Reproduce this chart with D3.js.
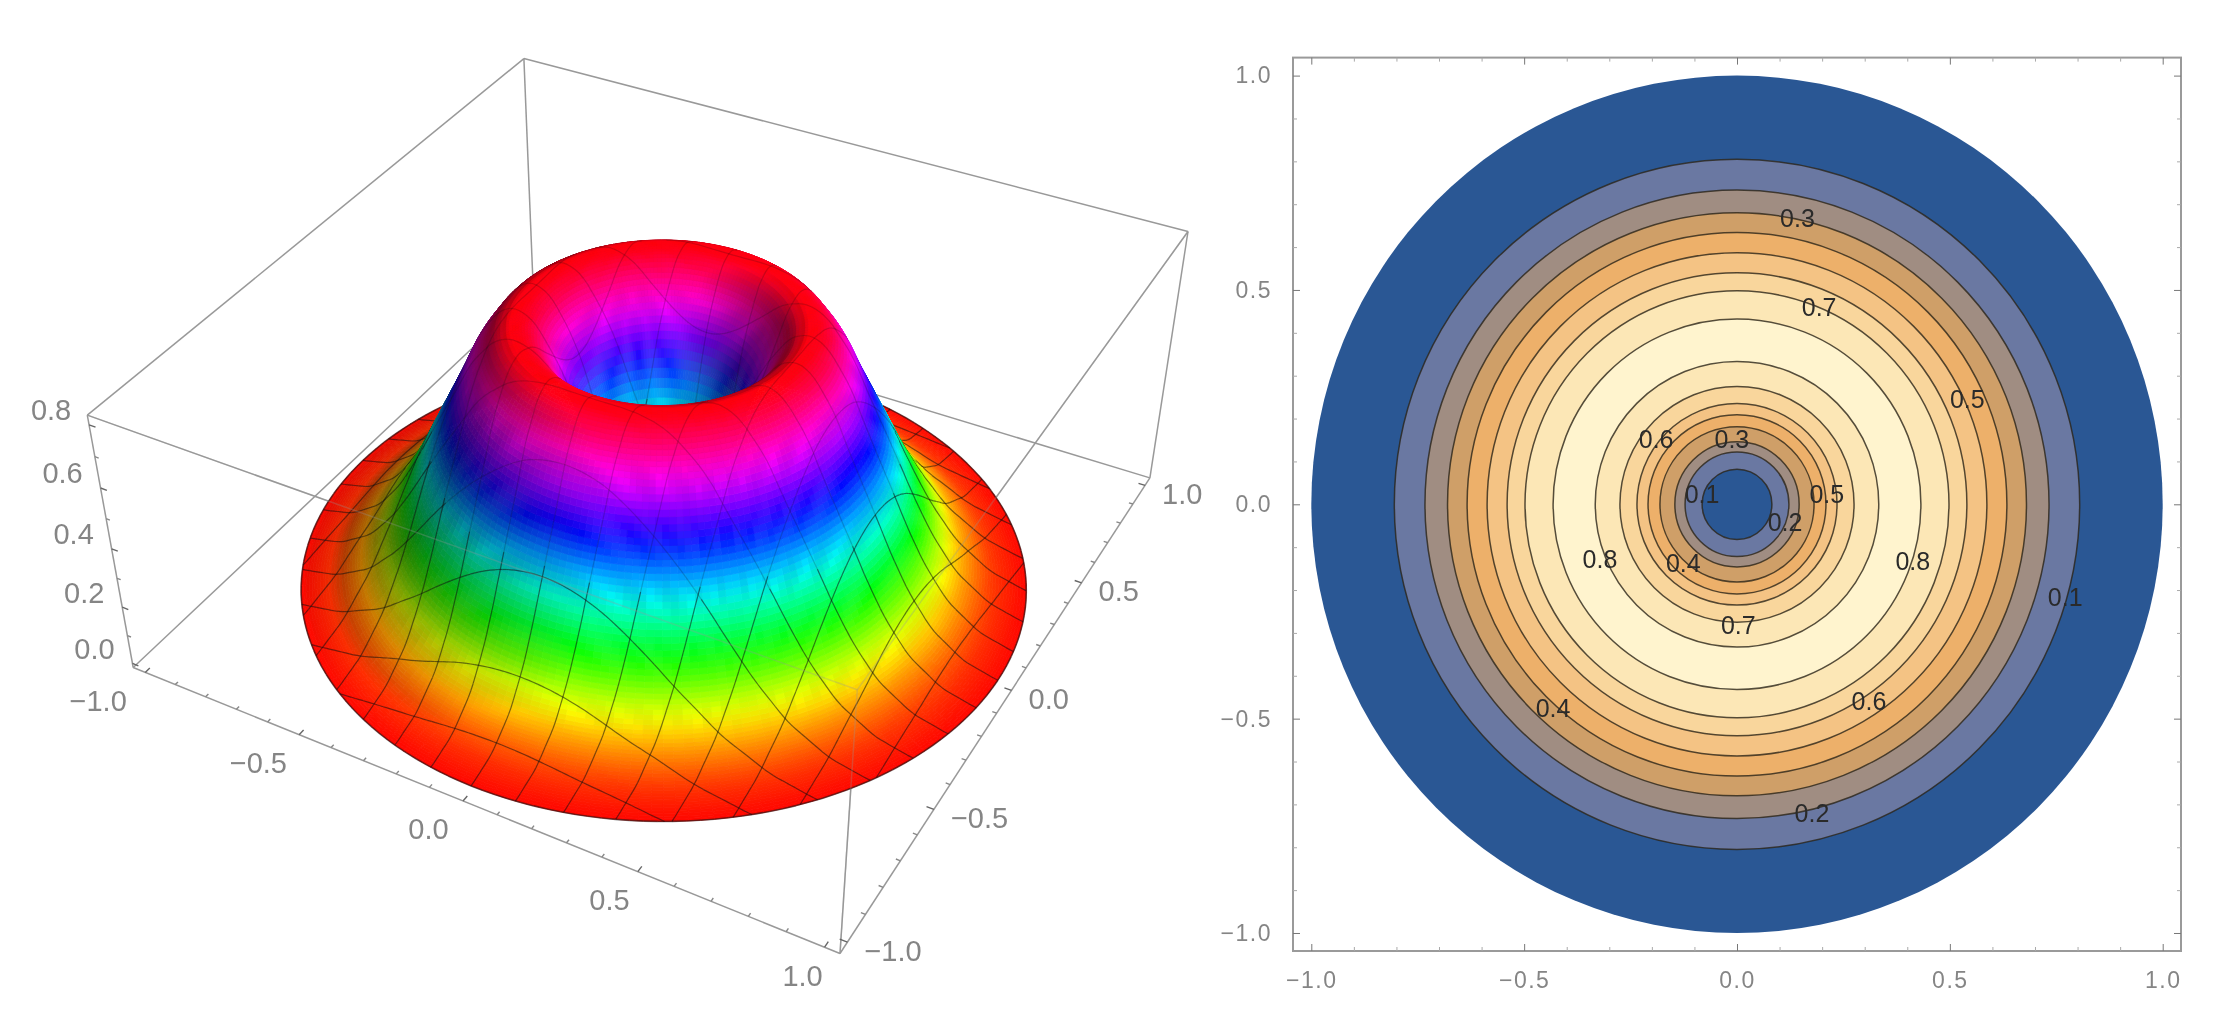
<!DOCTYPE html>
<html>
<head>
<meta charset="utf-8">
<style>
  body { margin: 0; background: #fff; }
  svg { filter: blur(0.6px); }
  text { font-family: "Liberation Sans", sans-serif; }
</style>
<script src="https://cdnjs.cloudflare.com/ajax/libs/d3/7.8.5/d3.min.js"></script>
</head>
<body>
<svg id="chart" width="2217" height="1027"></svg>
<script>
  const contourLevels = [0.1, 0.2, 0.3, 0.4, 0.5, 0.6, 0.7, 0.8];
  const outerRadii = [0.805, 0.733, 0.68, 0.634, 0.587, 0.54, 0.498, 0.432];
  const innerRadii = [0.082, 0.122, 0.146, 0.181, 0.209, 0.235, 0.275, 0.333];
  const bandColors = ["#2a5794", "#6a78a2", "#a08d82", "#cf9f68", "#edb06a", "#f4c384", "#f9d69c", "#fce7b6", "#fff4ce"];
  const labelValues = [0.3, 0.7, 0.5, 0.6, 0.3, 0.1, 0.5, 0.2, 0.8, 0.4, 0.8, 0.1, 0.7, 0.6, 0.4, 0.2];
  const labelX = [0.142, 0.193, 0.541, -0.19, -0.012, -0.082, 0.211, 0.113, -0.322, -0.126, 0.413, 0.771, 0.003, 0.31, -0.432, 0.176];
  const labelY = [0.668, 0.461, 0.246, 0.153, 0.153, 0.023, 0.023, -0.041, -0.128, -0.136, -0.133, -0.217, -0.282, -0.458, -0.476, -0.72];
  const planeTicks = [-1, -0.5, 0, 0.5, 1];
  const heightTicks = [0, 0.2, 0.4, 0.6, 0.8];
  const peakRadius = 0.385;
  const peakHeight = 0.825;
  const outerEdgeRadii = [0.9, 1];
  const outerEdgeHeights = [0.03, 0.002];

  const svg = d3.select("#chart");
  const fmt = (d) => d3.format(".1f")(d).replace("-", "\u2212");

  // right panel: contour plot
  const x2 = d3.scaleLinear().domain([-1.043, 1.043]).range([1293, 2181]);
  const y2 = d3.scaleLinear().domain([-1.042, 1.042]).range([951, 57.6]);
  const right = svg.append("g");
  const rings = [{ r: 1, band: 0 }]
    .concat(outerRadii.map((r, i) => ({ r, band: i + 1, line: true })))
    .concat(innerRadii.map((r, i) => ({ r, band: i, line: true })).reverse());
  right.selectAll("ellipse").data(rings).join("ellipse")
    .attr("cx", x2(0)).attr("cy", y2(0))
    .attr("rx", (d) => x2(d.r) - x2(0)).attr("ry", (d) => y2(0) - y2(d.r))
    .attr("fill", (d) => bandColors[d.band])
    .attr("stroke", (d) => (d.line ? "#2b2418" : "none"))
    .attr("stroke-opacity", 0.8).attr("stroke-width", 1.5);
  right.selectAll("text.clabel").data(labelValues).join("text").attr("class", "clabel")
    .attr("x", (d, i) => x2(labelX[i])).attr("y", (d, i) => y2(labelY[i]))
    .attr("dy", "0.36em").attr("text-anchor", "middle")
    .attr("font-size", 25).attr("fill", "#2a2a2a").text((d) => d3.format(".1f")(d));

  right.append("rect").attr("x", x2.range()[0]).attr("y", y2.range()[1])
    .attr("width", x2.range()[1] - x2.range()[0]).attr("height", y2.range()[0] - y2.range()[1])
    .attr("fill", "none").attr("stroke", "#9a9a9a").attr("stroke-width", 2);

  const minorTicks = d3.range(-10, 11).filter((d) => d % 5 !== 0).map((d) => d / 10);
  function frameAxis(axis, scale, transform, labelled) {
    const major = right.append("g").attr("transform", transform)
      .call(axis(scale).tickValues(planeTicks).tickSize(-7).tickPadding(labelled ? 21 : 0)
        .tickFormat(labelled ? fmt : ""));
    major.select(".domain").remove();
    major.selectAll("line").attr("stroke", "#777");
    major.selectAll("text").attr("font-size", 23).attr("fill", "#858585")
      .attr("font-family", "Liberation Sans").attr("letter-spacing", 1.5);
    const minor = right.append("g").attr("transform", transform)
      .call(axis(scale).tickValues(minorTicks).tickSize(-4).tickFormat(""));
    minor.select(".domain").remove();
    minor.selectAll("line").attr("stroke", "#aaa");
  }
  frameAxis(d3.axisBottom, x2, `translate(0,${y2.range()[0]})`, true);
  frameAxis(d3.axisTop, x2, `translate(0,${y2.range()[1]})`, false);
  frameAxis(d3.axisLeft, y2, `translate(${x2.range()[0]},0)`, true);
  frameAxis(d3.axisRight, y2, `translate(${x2.range()[1]},0)`, false);

  // left panel: the box is mapped to unit-ish coords, then through a fixed camera
  const boxXY = d3.scaleLinear().domain([-1.04, 1.04]).range([-1, 1]);
  const boxZ = d3.scaleLinear().domain([-0.015, 0.83]).range([0, 0.84]);
  const cam = [
    [288.652808, 245.516417, -60.35611, 662.04907],
    [79.857831, -151.655217, -325.999766, 568.890319],
    [-0.06015098, 0.10039035, -0.09047093, 1],
  ];
  const project = ([X, Y, Z]) => {
    const v = [boxXY(X), boxXY(Y), boxZ(Z), 1];
    const [a, b, w] = cam.map((row) => d3.sum(row, (c, i) => c * v[i]));
    return [a / w, b / w, w];
  };
  const pathOf = (pts) => "M" + pts.map((p) => { const q = project(p); return q[0].toFixed(1) + "," + q[1].toFixed(1); }).join("L");

  const surfaceRadii = [0].concat(innerRadii, [peakRadius], outerRadii.slice().reverse(), outerEdgeRadii);
  const surfaceHeights = [0].concat(contourLevels, [peakHeight], contourLevels.slice().reverse(), outerEdgeHeights);
  const profile = d3.scaleLinear().domain(surfaceRadii).range(surfaceHeights).clamp(true);
  const heightAt = (r) => (profile(r - 0.014) + profile(r) + profile(r + 0.014)) / 3;
  const hue = d3.scaleLinear().domain([0, peakHeight]).range([0, 360]).clamp(true);

  const left = svg.append("g");
  const edge = (a, b, op) => left.append("path").attr("d", pathOf([a, b])).attr("stroke", "#999")
    .attr("stroke-width", 1.5).attr("stroke-opacity", op).attr("fill", "none");
  const [xa, xb] = boxXY.domain();
  const [za, zb] = boxZ.domain();
  const b0 = [xa, xa, za], b1 = [xb, xa, za], b2 = [xb, xb, za], b3 = [xa, xb, za];
  const t0 = [xa, xa, zb], t1 = [xb, xa, zb], t2 = [xb, xb, zb], t3 = [xa, xb, zb];
  const frontEdges = [[t0, t1], [t1, t2], [t1, b1]];
  [[t3, t2], [t3, t0], [t3, b3], [b0, b3], [b2, b3], [t2, b2], [t0, b0], [b0, b1], [b1, b2]]
    .concat(frontEdges).forEach(([a, b]) => edge(a, b, 1));

  // colours are set at the nodes of a coarse grid and blended, as the renderer does
  const gridStep = 0.04;
  const nodeCache = new Map();
  const nodeColor = (i, j) => {
    const key = i + "," + j;
    if (!nodeCache.has(key)) {
      const r = Math.hypot(i * gridStep, j * gridStep);
      nodeCache.set(key, d3.hsl(hue(heightAt(r)) % 360, 1, 0.5).rgb());
    }
    return nodeCache.get(key);
  };
  const blended = (X, Y) => {
    const fx = X / gridStep, fy = Y / gridStep;
    const i = Math.floor(fx), j = Math.floor(fy), u = fx - i, v = fy - j;
    const c00 = nodeColor(i, j), c10 = nodeColor(i + 1, j), c01 = nodeColor(i, j + 1), c11 = nodeColor(i + 1, j + 1);
    const mix = (k) => (c00[k] * (1 - u) + c10[k] * u) * (1 - v) + (c01[k] * (1 - u) + c11[k] * u) * v;
    return [mix("r"), mix("g"), mix("b")];
  };
  const light = [0.75, -0.15, 0.65];
  const shade = (r, t) => {
    const slope = (heightAt(r + 0.005) - heightAt(r - 0.005)) / 0.01;
    const n = [-slope * Math.cos(t), -slope * Math.sin(t), 1];
    const len = Math.hypot(n[0], n[1], n[2]);
    const dot = (n[0] * light[0] + n[1] * light[1] + n[2] * light[2]) / len;
    return Math.min(1, Math.max(0.5, 0.55 + 0.8 * dot));
  };
  const colorAt = (r, t) => {
    const [cr, cg, cb] = blended(r * Math.cos(t), r * Math.sin(t));
    const k = shade(r, t);
    return d3.rgb(cr * k, cg * k, cb * k).formatHex();
  };
  const pt = (r, t) => [r * Math.cos(t), r * Math.sin(t), heightAt(r)];

  const items = [];
  const nr = 130, nt = 200;
  for (let i = 0; i < nr; i++) {
    const r0 = i / nr, r1 = (i + 1) / nr;
    for (let j = 0; j < nt; j++) {
      const a0 = (j / nt) * 2 * Math.PI, a1 = ((j + 1) / nt) * 2 * Math.PI;
      const rm = (r0 + r1) / 2, am = (a0 + a1) / 2;
      const col = colorAt(rm, am);
      items.push({ d: pathOf([pt(r0, a0), pt(r1, a0), pt(r1, a1), pt(r0, a1)]) + "Z", fill: col, stroke: col, sw: 0.8, op: 1, w: project(pt(rm, am))[2] });
    }
  }
  const bias = 0.004;
  const addLine = (pts, sw, op) => {
    for (let i = 0; i + 1 < pts.length; i++) {
      const a = pts[i], b = pts[i + 1];
      const w = (project(a)[2] + project(b)[2]) / 2;
      // mesh fades on the upper part of the surface
      const o = a[2] > 0.42 ? op * 0.35 : op;
      items.push({ d: pathOf([a, b]), fill: "none", stroke: "#101010", sw, op: o, w: w - bias });
    }
  };
  const meshValues = d3.range(1, 16).map((d) => -1 + d * 0.125);
  meshValues.forEach((c) => {
    const lim = Math.sqrt(1 - c * c);
    const s = d3.range(-lim, lim, 0.0125).concat([lim]);
    addLine(s.map((u) => [c, u, heightAt(Math.hypot(c, u))]), 1.2, 0.55);
    addLine(s.map((u) => [u, c, heightAt(Math.hypot(c, u))]), 1.2, 0.55);
  });
  addLine(d3.range(0, 361, 2).map((a) => pt(1, (a * Math.PI) / 180)), 1.6, 0.6);
  items.sort((a, b) => b.w - a.w);
  left.append("g").selectAll("path").data(items).join("path")
    .attr("d", (d) => d.d).attr("fill", (d) => d.fill).attr("stroke", (d) => d.stroke)
    .attr("stroke-width", (d) => d.sw).attr("stroke-opacity", (d) => d.op);
  frontEdges.forEach(([a, b]) => edge(a, b, 0.3));

  // axis labels and ticks of the box
  const tick = (p, q, major) => left.append("path").attr("d", pathOf([p, q]))
    .attr("stroke", major ? "#666" : "#888").attr("stroke-width", 1.4);
  const axisLabel = (p, dx, dy, s, anchor) => {
    const q = project(p);
    left.append("text").attr("x", q[0] + dx).attr("y", q[1] + dy).attr("dy", "0.36em")
      .attr("text-anchor", anchor).attr("font-size", 29).attr("fill", "#858585").text(s);
  };
  planeTicks.forEach((v) => {
    axisLabel([v, xa, za], -34.5 + 12.5 * v, 28, fmt(v), "middle");
    axisLabel([xb, v, za], 17, 8, fmt(v), "start");
  });
  heightTicks.forEach((v) => axisLabel([xa, xa, v], -38, -15, fmt(v), "middle"));
  d3.range(-10, 11).forEach((k) => {
    const v = k / 10, major = k % 5 === 0, s = major ? 0.02 : 0.012;
    tick([v, xa, za], [v, xa + s, za], major);
    tick([xb, v, za], [xb - s, v, za], major);
  });
  d3.range(0, 9).forEach((k) => {
    const v = k / 10, major = k % 2 === 0;
    tick([xa, xa, v], [xa + (major ? 0.02 : 0.012), xa, v], major);
  });
</script>
</body>
</html>
